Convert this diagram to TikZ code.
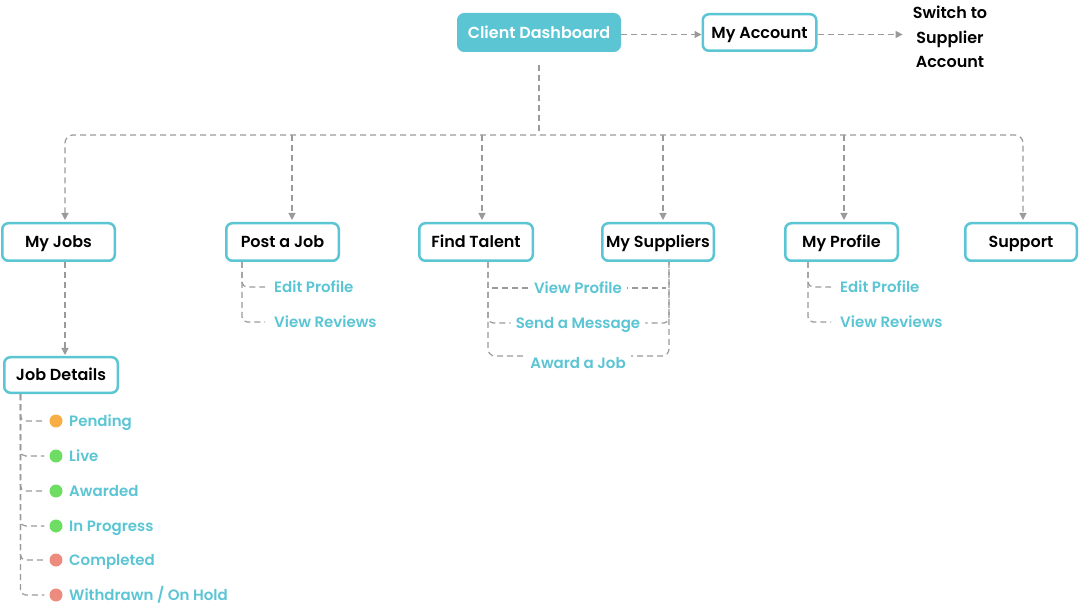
\documentclass[tikz,border=0pt]{standalone}
\usepackage{fontspec}
\setmainfont{Poppins}[UprightFont={* Medium}, BoldFont={* SemiBold}]
\usetikzlibrary{arrows.meta,backgrounds}
\definecolor{teal1}{HTML}{5BC5D4}
\definecolor{lnk}{HTML}{9A9A9A}
\definecolor{dotor}{HTML}{F9AE45}
\definecolor{dotgr}{HTML}{6EDD63}
\definecolor{dotrd}{HTML}{EC8B7E}
\begin{document}
\begin{tikzpicture}[x=1pt,y=-1pt,
  box/.style={draw=teal1, line width=2.5pt, rounded corners=6pt, fill=white,
    minimum width=112.5pt, minimum height=37.5pt, inner sep=0pt,
    font=\bfseries\fontsize{16}{18}\selectfont, text=black, text height=11.5pt, text depth=0pt},
  sub/.style={text=teal1, font=\bfseries\fontsize{15}{17}\selectfont, inner sep=0pt,
    text height=10.5pt, text depth=0pt},
  subw/.style={sub, fill=white, inner xsep=5pt, inner ysep=4pt},
  dot/.style={circle, minimum size=13pt, inner sep=0pt},
  link/.style={draw=lnk, line width=1.2pt, dash pattern=on 6pt off 4pt},
  arr/.style={link, -{Triangle[length=7pt,width=7pt]}},
]
\useasboundingbox (0,0) rectangle (1080,604);

% top
\node[box, fill=teal1, text=white, minimum width=161.5pt, minimum height=36.5pt] (cd) at (539,32.5) {Client Dashboard};
\node[box, minimum width=113.5pt, minimum height=36.5pt] (ma) at (759.5,32.5) {My Account};
\node[align=center, inner sep=0pt, font=\bfseries\fontsize{16}{24.5}\selectfont] (sw) at (950,37) {Switch to\\Supplier\\Account};

% level 1
\node[box] (myjobs) at (58.5,242) {My Jobs};
\node[box] (postjob) at (282.5,242) {Post a Job};
\node[box, minimum width=113.5pt] (findtalent) at (476,242) {Find Talent};
\node[box, minimum width=111.5pt] (mysuppliers) at (658,242) {My Suppliers};
\node[box] (myprofile) at (841.5,242) {My Profile};
\node[box, minimum width=111.5pt] (support) at (1021,242) {Support};

\node[box, minimum width=113.5pt, minimum height=35.5pt] (jobdetails) at (61,375) {Job Details};

% sub items
\node[sub, anchor=west] (ep1) at (274,287) {Edit Profile};
\node[sub, anchor=west] (vr1) at (274,322) {View Reviews};
\node[sub, anchor=west] (ep2) at (840,287) {Edit Profile};
\node[sub, anchor=west] (vr2) at (840,322) {View Reviews};
\node[subw] (vp) at (578,288) {View Profile};
\node[subw] (sm) at (578,323) {Send a Message};
\node[subw] (aj) at (578,363) {Award a Job};

% job statuses
\node[dot, fill=dotor] (d1) at (56,421) {};
\node[dot, fill=dotgr] (d2) at (56,456) {};
\node[dot, fill=dotgr] (d3) at (56,491) {};
\node[dot, fill=dotgr] (d4) at (56,526) {};
\node[dot, fill=dotrd] (d5) at (56,560) {};
\node[dot, fill=dotrd] (d6) at (56,595) {};
\node[sub, anchor=west] (t1) at (69,421) {Pending};
\node[sub, anchor=west] (t2) at (69,456) {Live};
\node[sub, anchor=west] (t3) at (69,491) {Awarded};
\node[sub, anchor=west] (t4) at (69,526) {In Progress};
\node[sub, anchor=west] (t5) at (69,560) {Completed};
\node[sub, anchor=west] (t6) at (69,595) {Withdrawn / On Hold};

\coordinate (hub) at ([yshift=-13pt]cd.south);
\coordinate (b1) at (65,135);
\coordinate (b2) at (292,135);
\coordinate (b3) at (482,135);
\coordinate (b4) at (663,135);
\coordinate (b5) at (844,135);
\coordinate (b6) at (1023,135);
\coordinate (pjt) at ([xshift=17pt]postjob.south west);
\coordinate (mpt) at ([xshift=24pt]myprofile.south west);
\coordinate (ftt) at ([xshift=70pt]findtalent.south west);
\coordinate (mst) at ([xshift=68pt]mysuppliers.south west);
\coordinate (jdt) at ([xshift=17.5pt]jobdetails.south west);

\begin{scope}[on background layer]
\draw[arr] ([yshift=-2pt]cd.east) -- ([yshift=-2pt]ma.west);
\draw[arr, shorten >=10pt] ([yshift=-2pt]ma.east) -- ([yshift=-2pt]ma.east -| sw.west);
\draw[link] (hub) -- (hub |- b1);
\draw[link, {Triangle[length=7pt,width=7pt]}-{Triangle[length=7pt,width=7pt]}, rounded corners=8pt, shorten <=2pt, shorten >=2pt]
  (b1 |- myjobs.north) -- (b1) -- (b6) -- (b6 |- support.north);
\draw[arr, shorten >=2pt] (b2) -- (b2 |- postjob.north);
\draw[arr, shorten >=2pt] (b3) -- (b3 |- findtalent.north);
\draw[arr, shorten >=2pt] (b4) -- (b4 |- mysuppliers.north);
\draw[arr, shorten >=2pt] (b5) -- (b5 |- myprofile.north);
\draw[arr, shorten >=1pt] ([xshift=6.5pt]myjobs.south) -- ([xshift=4pt]jobdetails.north);

% post a job
\draw[link, rounded corners=5pt] (pjt) |- ([xshift=-9pt]ep1.west);
\draw[link, rounded corners=5pt] (pjt) |- ([xshift=-9pt]vr1.west);
% my profile
\draw[link, rounded corners=5pt] (mpt) |- ([xshift=-9pt]ep2.west);
\draw[link, rounded corners=5pt] (mpt) |- ([xshift=-9pt]vr2.west);
% find talent / suppliers
\draw[link, rounded corners=7pt] (ftt) -- (ftt |- 0,356) -- (mst |- 0,356) -- (mst);
\draw[link] ([xshift=4pt]ftt |- vp) -- ([xshift=-3pt]mst |- vp);
\draw[link, rounded corners=5pt] (ftt) |- (sm);
\draw[link, rounded corners=5pt] (mst) |- (sm);
% job details
\foreach \d in {d1,d2,d3,d4,d5,d6}
  \draw[link, rounded corners=5pt] (jdt) |- ([xshift=-5pt]\d.west);
\end{scope}
\end{tikzpicture}
\end{document}
